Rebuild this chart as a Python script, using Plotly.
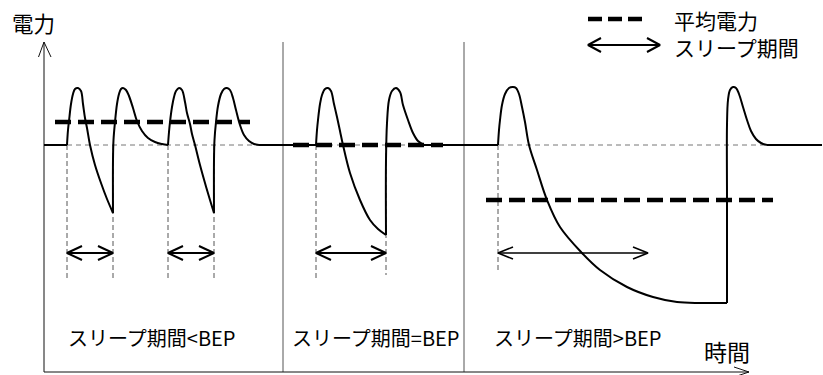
import plotly.graph_objects as go

# time (arbitrary units) and power (arbitrary units); idle power level = 227
IDLE_POWER = 227

# segments of the power curve: "fall" = wake spike then sleep, "wake" = jump back up then settle
S1A_FALL_T = [23, 24, 25, 27, 29, 31, 34, 37, 39, 41, 43, 46, 51, 57, 63, 69]
S1A_FALL_P = [227, 242, 251, 268, 278, 283, 284, 281, 268, 254, 244, 227, 207, 189, 173, 159]
S1A_WAKE_T = [69, 69, 69.5, 71, 73, 75, 77, 79, 82, 85, 89, 93, 98, 104, 111, 118, 124]
S1A_WAKE_P = [159, 212, 232, 250, 268, 278, 283, 284, 282, 276, 264, 251, 241, 234, 230, 228, 227]
S1B_FALL_T = [124, 125, 126, 128, 130, 132, 135, 138, 141, 143, 146, 148, 151, 156, 161, 166, 170]
S1B_FALL_P = [227, 240, 250, 265, 275, 281, 284, 282, 270, 259, 248, 238, 227, 207, 189, 172, 159]
S1B_WAKE_T = [170, 170, 170.5, 172, 174, 177, 180, 183, 186, 189, 192, 196, 200, 205, 210, 215]
S1B_WAKE_P = [159, 212, 232, 250, 266, 278, 283, 284, 282, 274, 262, 247, 237, 231, 228, 227]
S2_FALL_T = [272, 273, 274, 276, 278, 281, 284, 287, 290, 293, 296, 299, 306, 316, 326, 334, 342]
S2_FALL_P = [227, 242, 252, 268, 277, 283, 284, 281, 268, 255, 241, 227, 199, 172, 152, 143, 137]
S2_WAKE_T = [342, 342, 343, 345, 348, 352, 356, 359, 364, 369, 374, 380]
S2_WAKE_P = [137, 212, 249, 272, 281, 284, 280, 267, 252, 239, 231, 227]
S3_FALL_T = [454, 455, 456, 458, 461, 465, 469, 472, 475, 478, 481, 485, 493, 503, 516,
             538, 556, 583, 609, 633, 656, 683]
S3_FALL_P = [227, 242, 252, 267, 278, 284, 285, 284, 278, 265, 250, 227, 202, 172, 145,
             119, 102, 85, 75, 70, 69, 69]
S3_WAKE_T = [683, 683, 683, 684, 686, 689, 692, 695, 699, 703, 707, 712, 717, 723]
S3_WAKE_P = [69, 172, 247, 272, 282, 285, 284, 278, 265, 252, 241, 233, 229, 227]

# idle stretches at IDLE_POWER (start, end)
IDLE_START = [0, 215, 380, 723]
IDLE_END = [23, 272, 454, 778]

# average power per section
AVG_POWER = [250, 227, 172]
AVG_START = [11, 249, 442]
AVG_END = [206, 399, 729]

# sleep periods (start, end) and where the arrows sit
SLEEP_START = [23, 124, 272, 454]
SLEEP_END = [69, 170, 342, 604]
ARROW_POWER = 119

SECTION_BOUNDS = [239, 420]
SECTION_LABELS = ["スリープ期間<BEP", "スリープ期間=BEP", "スリープ期間>BEP"]
SECTION_LABEL_T = [107.5, 331, 533.5]
LEGEND_LABELS = ["平均電力", "スリープ期間"]

FONT = "Noto Sans CJK JP, Noto Sans, sans-serif"


def joined(ts, ps):
    xs, ys = [], []
    for t, p in zip(ts, ps):
        xs += list(t) + [None]
        ys += list(p) + [None]
    return xs, ys


def double_arrow(t0, t1, p, hx=15, hy=7):
    xs = [t0 + hx, t0, t0 + hx, None, t0, t1, None, t1 - hx, t1, t1 - hx]
    ys = [p + hy, p, p - hy, None, p, p, None, p + hy, p, p - hy]
    return xs, ys


fig = go.Figure()

# thin reference line at idle level
fig.add_trace(go.Scatter(x=[IDLE_END[0], IDLE_START[-1]], y=[IDLE_POWER, IDLE_POWER], mode="lines",
                         line=dict(color="#777", width=1, dash="5px,4px")))

# sleep guide lines
guide_x, guide_y = [], []
guide_bottom = [92, 92, 92, 92, 92, 97, 99]
guide_t = [SLEEP_START[0], SLEEP_END[0], SLEEP_START[1], SLEEP_END[1],
           SLEEP_START[2], SLEEP_END[2], SLEEP_START[3]]
for t, b in zip(guide_t, guide_bottom):
    guide_x += [t, t, None]
    guide_y += [IDLE_POWER, b, None]
fig.add_trace(go.Scatter(x=guide_x, y=guide_y, mode="lines",
                         line=dict(color="#555", width=1, dash="5px,3px")))

# axes and section dividers
fig.add_trace(go.Scatter(x=[SECTION_BOUNDS[0], SECTION_BOUNDS[0], None, SECTION_BOUNDS[1], SECTION_BOUNDS[1]],
                         y=[0, 330, None, 0, 330], mode="lines", line=dict(color="#555", width=1)))
fig.add_trace(go.Scatter(x=[-5.5, 0, 7, None, 0, 0, 705, None, 690, 705, 690],
                         y=[315, 330, 315, None, 330, 0, 0, None, 5, 0, -5],
                         mode="lines", line=dict(color="#111", width=1)))

# power curve
curve_x, curve_y = joined(
    [S1A_FALL_T, S1A_WAKE_T, S1B_FALL_T, S1B_WAKE_T, S2_FALL_T, S2_WAKE_T, S3_FALL_T, S3_WAKE_T],
    [S1A_FALL_P, S1A_WAKE_P, S1B_FALL_P, S1B_WAKE_P, S2_FALL_P, S2_WAKE_P, S3_FALL_P, S3_WAKE_P],
)
fig.add_trace(go.Scatter(x=curve_x, y=curve_y, mode="lines", connectgaps=False,
                         line=dict(color="black", width=2, shape="spline", smoothing=1)))
idle_x, idle_y = [], []
for a, b in zip(IDLE_START, IDLE_END):
    idle_x += [a, b, None]
    idle_y += [IDLE_POWER, IDLE_POWER, None]
fig.add_trace(go.Scatter(x=idle_x, y=idle_y, mode="lines", line=dict(color="black", width=2)))

# average power
for p, a, b in zip(AVG_POWER, AVG_START, AVG_END):
    fig.add_trace(go.Scatter(x=[a, b], y=[p, p], mode="lines",
                             line=dict(color="black", width=4.5, dash="16px,7px")))

# sleep period arrows
for i, (a, b) in enumerate(zip(SLEEP_START, SLEEP_END)):
    ax, ay = double_arrow(a, b, ARROW_POWER, hy=6 if i == 3 else 7)
    fig.add_trace(go.Scatter(x=ax, y=ay, mode="lines",
                             line=dict(color="black", width=1.6 if i == 3 else 2)))

# legend
fig.add_trace(go.Scatter(x=[544, 603], y=[353, 353], mode="lines",
                         line=dict(color="black", width=4.5, dash="14px,6px")))
lx, ly = double_arrow(544, 616, 327, hx=13, hy=7)
fig.add_trace(go.Scatter(x=lx, y=ly, mode="lines", line=dict(color="black", width=2)))

annotations = [
    dict(x=628, y=339, text="<br>".join(LEGEND_LABELS), xanchor="left", align="left",
         font=dict(size=21)),
    dict(x=-11, y=350, text="電力", xanchor="center", font=dict(size=21.5)),
    dict(x=683, y=21, text="時間", xanchor="center", font=dict(size=23)),
]
for label, t in zip(SECTION_LABELS, SECTION_LABEL_T):
    annotations.append(dict(x=t, y=35, text=label, xanchor="center", font=dict(size=20)))
for a in annotations:
    a.update(showarrow=False, yanchor="middle", xref="x", yref="y")
    a["font"].update(family=FONT, color="black")

fig.update_layout(
    width=823,
    height=375,
    autosize=False,
    margin=dict(l=0, r=0, t=0, b=0, pad=0),
    paper_bgcolor="white",
    plot_bgcolor="white",
    showlegend=False,
    annotations=annotations,
    xaxis=dict(range=[-44, 779], visible=False, fixedrange=True),
    yaxis=dict(range=[-3, 372], visible=False, fixedrange=True),
)

fig.write_html("out.html", config={"displayModeBar": False},
               post_script="document.body.style.margin='0';")
